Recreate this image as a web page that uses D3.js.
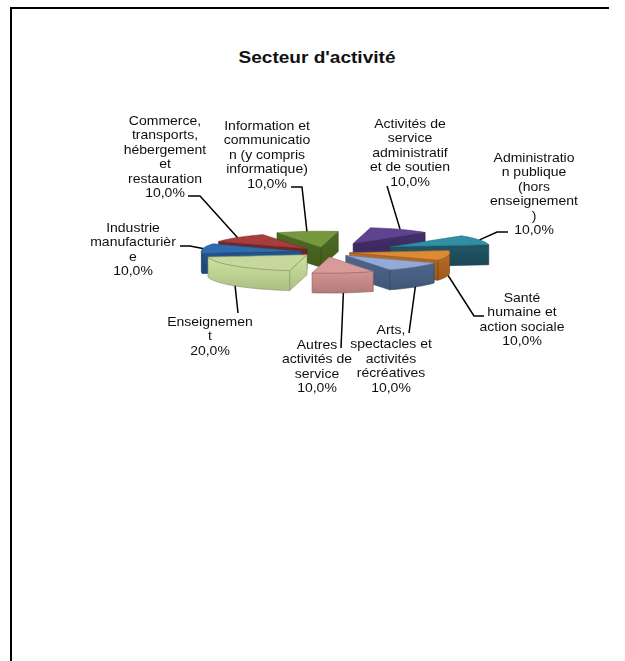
<!DOCTYPE html>
<html>
<head>
<meta charset="utf-8">
<script src="https://cdnjs.cloudflare.com/ajax/libs/d3/7.8.5/d3.min.js"></script>
<style>
    html, body { margin: 0; padding: 0; background: #fff; }
    svg { display: block; }
    text { font-family: "Liberation Sans", Arial, sans-serif; fill: #111; }
</style>
</head>
<body>
<div id="chart-container"></div>
<script>
const title = "Secteur d'activité";
const categories = [
    "Information et communication (y compris informatique)",
    "Activités de service administratif et de soutien",
    "Administration publique (hors enseignement)",
    "Santé humaine et action sociale",
    "Arts, spectacles et activités récréatives",
    "Autres activités de service",
    "Enseignement",
    "Industrie manufacturière",
    "Commerce, transports, hébergement et restauration"
];
const values = [10, 10, 10, 10, 10, 10, 20, 10, 10];
// explosion of each slice, in % of the radius (as in the spreadsheet)
const explosion = [30, 60, 72, 25, 30, 32, 25, 24, 26];
const valueLabels = ["10,0%", "10,0%", "10,0%", "10,0%", "10,0%", "10,0%", "20,0%", "10,0%", "10,0%"];
// labels wrap inside their box, words get cut like in the original
const labelLines = [
    ["Information et", "communicatio", "n (y compris", "informatique)"],
    ["Activités de", "service", "administratif", "et de soutien"],
    ["Administratio", "n publique", "(hors", "enseignement", ")"],
    ["Santé", "humaine et", "action sociale"],
    ["Arts,", "spectacles et", "activités", "récréatives"],
    ["Autres", "activités de", "service"],
    ["Enseignemen", "t"],
    ["Industrie", "manufacturièr", "e"],
    ["Commerce,", "transports,", "hébergement", "et", "restauration"]
];
const topColors = ["#76993c", "#5f4390", "#2f8fa6", "#dd8a35", "#93aad8", "#d99a9a", "#c6d89c", "#2f6cae", "#a83c3c"];
const wallColors = ["#46611f", "#3c2a60", "#1e4c5c", "#a9601f", "#465c80", "#c08484", "#b9cd8f", "#1f4c80", "#6e2222"];

const width = 625, height = 661;
const frame = { left: 11, top: 8, right: 609 };

const svg = d3.select("#chart-container").append("svg")
    .attr("width", width)
    .attr("height", height);

const defs = svg.append("defs");
defs.append("filter").attr("id", "soft")
    .append("feGaussianBlur").attr("stdDeviation", 0.45);

// wall shading, lighter at the top edge
wallColors.forEach((c, i) => {
    const grad = defs.append("linearGradient")
        .attr("id", "wall" + i)
        .attr("x1", 0).attr("y1", 0)
        .attr("x2", 0).attr("y2", 1);
    grad.append("stop").attr("offset", "0%").attr("stop-color", d3.color(c).brighter(0.3));
    grad.append("stop").attr("offset", "100%").attr("stop-color", d3.color(c).darker(0.2));
});

svg.append("path")
    .attr("d", `M${frame.left},${height}V${frame.top}H${frame.right}`)
    .attr("fill", "none")
    .attr("stroke", "#000")
    .attr("stroke-width", 2);

svg.append("text")
    .attr("x", 317)
    .attr("y", 63)
    .attr("text-anchor", "middle")
    .attr("font-size", 17)
    .attr("font-weight", "bold")
    .attr("textLength", 157)
    .attr("lengthAdjust", "spacingAndGlyphs")
    .text(title);

// flattened 3D view of the pie
const center = { x: 325, y: 252 };
const radius = 100;
const flatten = 0.16;
const depth = 20;

const xScale = d3.scaleLinear().domain([-1, 1]).range([center.x - radius, center.x + radius]);
const yScale = d3.scaleLinear().domain([-1, 1]).range([center.y - radius * flatten, center.y + radius * flatten]);

const toRad = Math.PI / 180;
const pie = d3.pie().sort(null).value(d => d).startAngle(-26 * toRad).endAngle(334 * toRad);
const arcs = pie(values);

function project(slice, r, angle, z) {
    const mid = (slice.startAngle + slice.endAngle) / 2;
    const e = explosion[slice.index] / 100;
    const ux = e * Math.sin(mid) + r * Math.sin(angle);
    const uy = -e * Math.cos(mid) - r * Math.cos(angle);
    return [xScale(ux), yScale(uy) + z];
}

function arcPoints(slice, from, to, r, z) {
    const n = Math.max(2, Math.ceil((to - from) / (3 * toRad)));
    return d3.range(n + 1).map(i => project(slice, r, from + (to - from) * i / n, z));
}

const line = d3.line();
const pieGroup = svg.append("g").attr("filter", "url(#soft)");

// back slices first
const drawOrder = d3.range(arcs.length).sort((a, b) => {
    const ma = (arcs[a].startAngle + arcs[a].endAngle) / 2;
    const mb = (arcs[b].startAngle + arcs[b].endAngle) / 2;
    return d3.ascending(-Math.cos(ma), -Math.cos(mb));
});

drawOrder.forEach(i => {
    const s = arcs[i];
    const g = pieGroup.append("g");
    const wallStyle = sel => sel
        .attr("fill", `url(#wall${i})`)
        .attr("stroke", d3.color(wallColors[i]).darker(1))
        .attr("stroke-width", 0.6)
        .attr("stroke-linejoin", "round");

    // radial wall on the start side, only when it faces the viewer
    if (-Math.cos(s.startAngle - Math.PI / 2) > 0) {
        const a = project(s, 0, 0, 0), b = project(s, 1, s.startAngle, 0);
        g.append("path").call(wallStyle)
            .attr("d", line([a, b, [b[0], b[1] + depth], [a[0], a[1] + depth]]) + "Z");
    }
    if (-Math.cos(s.endAngle + Math.PI / 2) > 0) {
        const a = project(s, 0, 0, 0), b = project(s, 1, s.endAngle, 0);
        g.append("path").call(wallStyle)
            .attr("d", line([a, b, [b[0], b[1] + depth], [a[0], a[1] + depth]]) + "Z");
    }

    // rim wall, front half only
    const from = Math.max(s.startAngle, 90 * toRad);
    const to = Math.min(s.endAngle, 270 * toRad);
    if (to > from) {
        const upper = arcPoints(s, from, to, 1, 0);
        const lower = arcPoints(s, from, to, 1, depth).reverse();
        g.append("path").call(wallStyle)
            .attr("d", line(upper.concat(lower)) + "Z");
    }

    // top face
    const top = [project(s, 0, 0, 0)].concat(arcPoints(s, s.startAngle, s.endAngle, 1, 0));
    g.append("path")
        .attr("d", line(top) + "Z")
        .attr("fill", topColors[i])
        .attr("stroke", d3.color(topColors[i]).darker(0.8))
        .attr("stroke-width", 0.6)
        .attr("stroke-linejoin", "round");
});

// leader lines and labels. label box: centre x, first baseline, and where the leader ends
const labelLayout = [
    { x: 267, y: 130, leader: [[291, 187], [302, 187]] },
    { x: 410, y: 128, leader: [[387, 186]] },
    { x: 534, y: 162, leader: [[508, 232], [497, 232]] },
    { x: 522, y: 302, leader: [[484, 316], [474, 316]] },
    { x: 391, y: 334, leader: [[409, 333]] },
    { x: 317, y: 349, leader: [[341, 348]] },
    { x: 210, y: 326, leader: [[238, 313]] },
    { x: 133, y: 232, leader: [[180, 246], [190, 246]] },
    { x: 165, y: 125, leader: [[188, 196], [200, 196]] }
];
const lineHeight = 14.4;
const fontSize = 12.4;
const stretch = 1.13;   // the reference text is a bit wider than it is tall

arcs.forEach((s, i) => {
    const mid = (s.startAngle + s.endAngle) / 2;
    const onFront = -Math.cos(mid) > 0.1;
    const anchor = project(s, 1, mid, onFront ? depth : 0);
    svg.append("path")
        .attr("d", line(labelLayout[i].leader.concat([anchor])))
        .attr("fill", "none")
        .attr("stroke", "#000")
        .attr("stroke-width", 1.5);

    const label = svg.append("g")
        .attr("transform", `translate(${labelLayout[i].x},${labelLayout[i].y}) scale(${stretch},1)`)
        .attr("filter", "url(#soft)");
    labelLines[i].concat([valueLabels[i]]).forEach((t, k) => {
        label.append("text")
            .attr("text-anchor", "middle")
            .attr("font-size", fontSize)
            .attr("y", k * lineHeight)
            .text(t);
    });
});
</script>
</body>
</html>
